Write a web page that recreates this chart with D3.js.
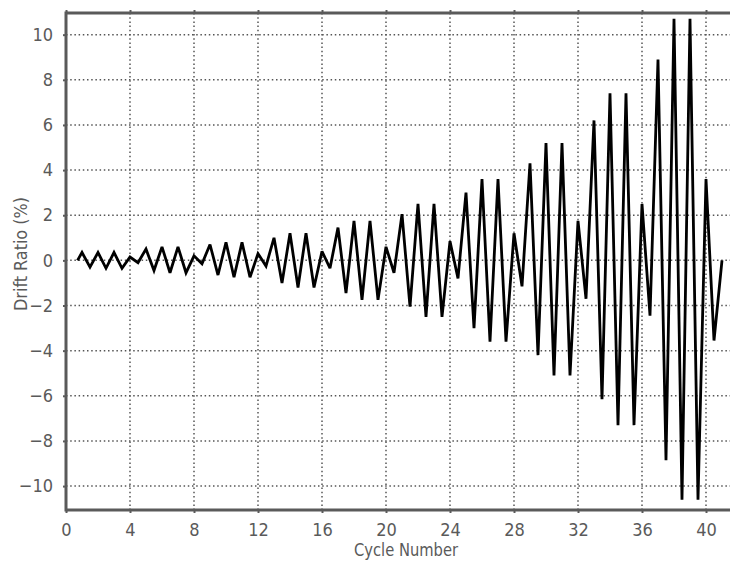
<!DOCTYPE html>
<html>
<head>
<meta charset="utf-8">
<script src="https://cdn.jsdelivr.net/npm/d3@7"></script>
<style>
  html, body { margin: 0; padding: 0; background: #fff; }
  svg { display: block; }
  text { font-family: "DejaVu Sans Condensed", "DejaVu Sans", sans-serif; }
</style>
</head>
<body>
<svg id="chart" width="730" height="563"></svg>
<script>
// ---- data ----
const cycles = d3.range(1, 41);
const positivePeaks = [
  0.35, 0.35, 0.35, 0.15, 0.5, 0.6, 0.6, 0.2, 0.7, 0.8,
  0.8, 0.3, 1.0, 1.2, 1.2, 0.4, 1.45, 1.75, 1.75, 0.6,
  2.05, 2.5, 2.5, 0.85, 3.0, 3.6, 3.6, 1.2, 4.3, 5.2,
  5.2, 1.75, 6.2, 7.4, 7.4, 2.5, 8.9, 10.7, 10.7, 3.6
];
const negativePeaks = [
  -0.3, -0.35, -0.35, -0.1, -0.45, -0.55, -0.55, -0.15, -0.65, -0.75,
  -0.75, -0.25, -1.0, -1.2, -1.2, -0.35, -1.45, -1.75, -1.75, -0.55,
  -2.05, -2.5, -2.5, -0.8, -3.0, -3.6, -3.6, -1.15, -4.2, -5.1,
  -5.1, -1.7, -6.15, -7.3, -7.3, -2.45, -8.85, -10.6, -10.6, -3.55
];
const startPoint = { x: 0.72, y: 0 };
const endPoint = { x: 41, y: 0 };
const xTicks = d3.range(0, 41, 4);
const yTicks = d3.range(-10, 11, 2);

// build point list
const points = [startPoint];
cycles.forEach((c, i) => {
  points.push({ x: c, y: positivePeaks[i] });
  points.push({ x: c + 0.5, y: negativePeaks[i] });
});
points.push(endPoint);

// ---- layout ----
const svg = d3.select("#chart");
const mLeft = 66, mRight = 730, mTop = 13, mBottom = 510;
const x = d3.scaleLinear().domain([0, 41.5]).range([mLeft, mRight]);
const y = d3.scaleLinear().domain([-11.06, 10.96]).range([mBottom, mTop]);

const axisColor = "#5a5a5a";
const gridColor = "#555";

// grid
const grid = svg.append("g");
grid.selectAll("line.v").data(xTicks.filter(d => d > 0)).join("line")
  .attr("class", "v")
  .attr("x1", d => x(d)).attr("x2", d => x(d))
  .attr("y1", mTop).attr("y2", mBottom)
  .attr("stroke", gridColor).attr("stroke-width", 1.5)
  .attr("stroke-dasharray", "1.5,2.7");
grid.selectAll("line.h").data(yTicks).join("line")
  .attr("class", "h")
  .attr("x1", mLeft).attr("x2", mRight)
  .attr("y1", d => y(d)).attr("y2", d => y(d))
  .attr("stroke", gridColor).attr("stroke-width", 1.5)
  .attr("stroke-dasharray", "1.5,2.7");

// data line
const line = d3.line().x(d => x(d.x)).y(d => y(d.y));
svg.append("path").datum(points)
  .attr("d", line)
  .attr("fill", "none")
  .attr("stroke", "#000")
  .attr("stroke-width", 2.8)
  .attr("stroke-linejoin", "miter")
  .attr("stroke-miterlimit", 3);

// axes
const xAxis = svg.append("g").attr("transform", `translate(0,${mBottom})`)
  .call(d3.axisBottom(x).tickValues(xTicks).tickSize(3).tickPadding(10));
const xAxisTop = svg.append("g").attr("transform", `translate(0,${mTop})`)
  .call(d3.axisTop(x).tickValues(xTicks).tickSize(3).tickFormat(""));
const yAxis = svg.append("g").attr("transform", `translate(${mLeft},0)`)
  .call(d3.axisLeft(y).tickValues(yTicks).tickSize(3).tickPadding(10));

[xAxis, xAxisTop, yAxis].forEach(g => {
  g.select(".domain").remove();
  g.selectAll(".tick line").attr("stroke", axisColor).attr("stroke-width", 2);
  g.selectAll(".tick text").attr("fill", axisColor).attr("font-size", 18)
    .attr("font-family", "'DejaVu Sans', sans-serif");
});

// spines
svg.append("line").attr("x1", mLeft).attr("x2", mRight).attr("y1", mTop).attr("y2", mTop)
  .attr("stroke", axisColor).attr("stroke-width", 3);
svg.append("line").attr("x1", mLeft).attr("x2", mRight).attr("y1", mBottom).attr("y2", mBottom)
  .attr("stroke", axisColor).attr("stroke-width", 3);
svg.append("line").attr("x1", mLeft).attr("x2", mLeft).attr("y1", mTop - 1.5).attr("y2", mBottom + 1.5)
  .attr("stroke", axisColor).attr("stroke-width", 3);

// axis titles
svg.append("text").attr("x", 406).attr("y", 556)
  .attr("text-anchor", "middle").attr("fill", axisColor).attr("font-size", 18)
  .attr("textLength", 104).attr("lengthAdjust", "spacingAndGlyphs")
  .text("Cycle Number");
svg.append("text").attr("transform", `translate(27,254) rotate(-90)`)
  .attr("text-anchor", "middle").attr("fill", axisColor).attr("font-size", 18)
  .attr("textLength", 114).attr("lengthAdjust", "spacingAndGlyphs")
  .text("Drift Ratio (%)");
</script>
</body>
</html>
